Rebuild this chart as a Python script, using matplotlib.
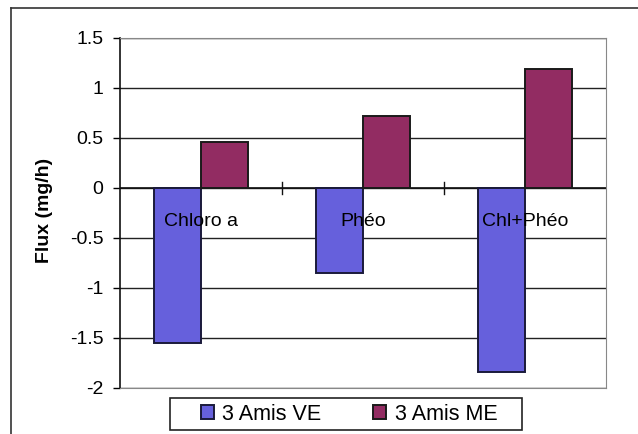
import matplotlib.pyplot as plt
from matplotlib.patches import Rectangle
from matplotlib.lines import Line2D
import numpy as np

plt.rcParams['font.family'] = ['Liberation Sans', 'DejaVu Sans']

categories = ['Chloro a', 'Phéo', 'Chl+Phéo']
flux_ve = [-1.55, -0.85, -1.84]
flux_me = [0.46, 0.72, 1.19]
series_names = ['3 Amis VE', '3 Amis ME']

fig = plt.figure(figsize=(6.38, 4.34), dpi=100)
W, H = 638, 434

# chart border: only the top and left edges fall inside the image
fig.lines.append(Line2D([11 / W, 1], [1 - 8 / H, 1 - 8 / H],
                        transform=fig.transFigure, color='#333333', linewidth=1.2))
fig.lines.append(Line2D([11 / W, 11 / W], [0, 1 - 8 / H],
                        transform=fig.transFigure, color='#333333', linewidth=1.2))

ax = fig.add_axes([120 / W, 1 - 388 / H, 486 / W, 350 / H])

x = np.arange(len(categories))
w = 0.29
b1 = ax.bar(x - w / 2, flux_ve, w, color='#6660dc', edgecolor='#1a1a3a',
            linewidth=1.4, label=series_names[0], zorder=3)
b2 = ax.bar(x + w / 2, flux_me, w, color='#922c62', edgecolor='#1a1a1a',
            linewidth=1.4, label=series_names[1], zorder=3)

ax.set_xlim(-0.5, 2.5)
ax.set_ylim(-2, 1.5)
ax.set_yticks(np.arange(-2, 1.51, 0.5))
ax.set_yticklabels(['-2', '-1.5', '-1', '-0.5', '0', '0.5', '1', '1.5'])
ax.tick_params(axis='y', labelsize=14, length=5, width=1, direction='out', pad=7)
ax.grid(axis='y', color='#222222', linewidth=1)
ax.set_axisbelow(True)

# category axis runs through zero
ax.set_xticks([])
ax.axhline(0, color='#111111', linewidth=1.2, zorder=2)
for xb in [0.5, 1.5]:
    ax.plot([xb, xb], [-0.06, 0.06], color='#111111', linewidth=1, zorder=2)
for xi, name in zip(x, categories):
    ax.text(xi, -0.33, name, ha='center', va='center', fontsize=14, zorder=4)

for side in ['top', 'right', 'bottom']:
    ax.spines[side].set_color('#888888')
ax.spines['left'].set_color('#111111')
ax.spines['left'].set_linewidth(1.2)

fig.text(45 / W, 1 - 210 / H, 'Flux (mg/h)', rotation=90, ha='center',
         va='center', fontsize=14, fontweight='bold')

# legend box drawn separately for the wide side padding
fig.patches.append(Rectangle((170 / W, 1 - 430 / H), 352 / W, 32 / H,
                             transform=fig.transFigure, fill=True,
                             facecolor='white', edgecolor='#222222',
                             linewidth=1.2, zorder=5))
leg = fig.legend(handles=[b1, b2], loc='center', ncol=2,
                 bbox_to_anchor=(349 / W, 1 - 414 / H), fontsize=15.5,
                 frameon=False, handlelength=0.6, handleheight=0.6,
                 handletextpad=0.4, columnspacing=2.4, borderpad=0.2)
leg.set_zorder(6)

fig.savefig('out.png', dpi=100)
